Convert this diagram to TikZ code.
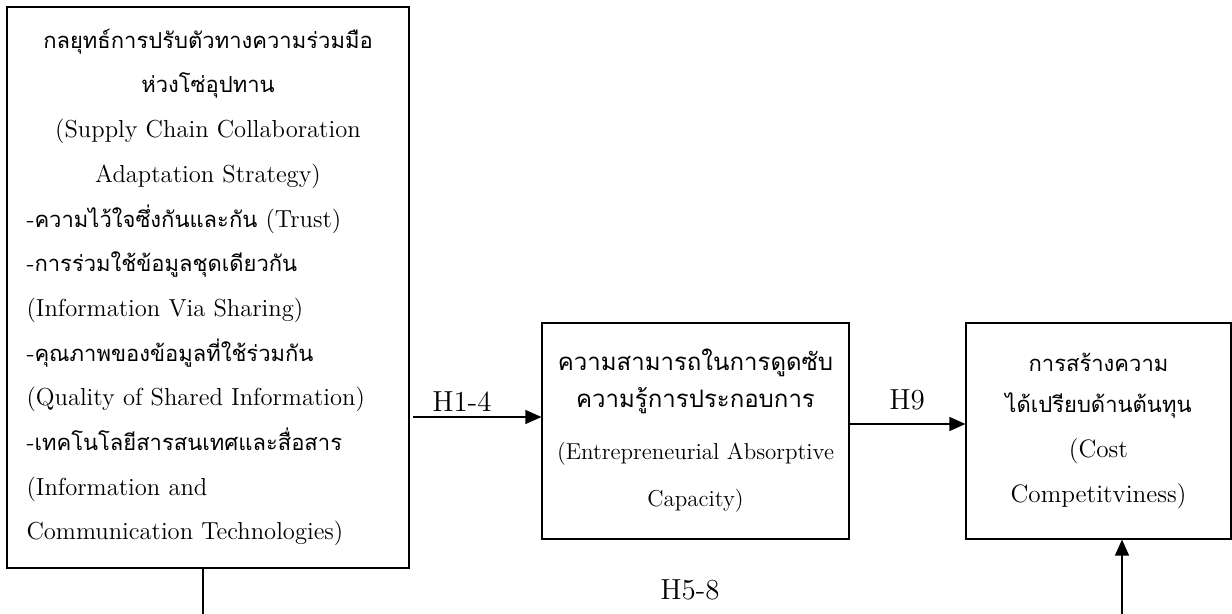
\documentclass[tikz,border=0pt]{standalone}
\usepackage{fontspec}
\newfontfamily\thai[Script=Thai]{Loma}
\usetikzlibrary{arrows.meta}

\begin{document}
\begin{tikzpicture}[x=0.5pt,y=-0.5pt,line width=0.6pt,
	box/.style={draw,line width=0.6pt,inner sep=0pt},
	lbl/.style={font=\fontsize{14.5}{16}\selectfont},
	arr/.style={-{Triangle[length=8pt,width=7pt]}}]
	\useasboundingbox (0,0) rectangle (1232,614);
	\node at (208,287.5) [box,minimum width=201pt,minimum height=280.5pt,text width=181.5pt,
		font=\fontsize{12.3}{22.35}\selectfont] (lbox) {%
		{\centering {\thai\fontsize{11}{22.35}\selectfont กลยุทธ์การปรับตัวทางความร่วมมือ}\\
		{\thai\fontsize{11}{22.35}\selectfont ห่วงโซ่อุปทาน}\\
		(Supply Chain Collaboration\\
		Adaptation Strategy)\par}
		\raggedright
		-{\thai\fontsize{11}{22.35}\selectfont ความไว้ใจซึ่งกันและกัน} (Trust)\\
		-{\thai\fontsize{11}{22.35}\selectfont การร่วมใช้ข้อมูลชุดเดียวกัน}\\
		(Information Via Sharing)\\
		-{\thai\fontsize{11}{22.35}\selectfont คุณภาพของข้อมูลที่ใช้ร่วมกัน}\\
		(Quality of Shared Information)\\
		-{\thai\fontsize{11}{22.35}\selectfont เทคโนโลยีสารสนเทศและสื่อสาร}\\
		(Information and\\
		Communication Technologies)};
	\node at (695.5,431) [box,minimum width=153.5pt,minimum height=108pt,align=center,
		font=\fontsize{11.5}{23.5}\selectfont] (mbox) {%
		{\thai\fontsize{12}{20}\selectfont ความสามารถในการดูดซับ}\\[-5pt]
		{\thai\fontsize{12}{20}\selectfont ความรู้การประกอบการ}\\[2.5pt]
		(Entrepreneurial Absorptive\\
		Capacity)};
	\node at (1098.5,431) [box,minimum width=132.5pt,minimum height=108pt,align=center,
		font=\fontsize{12.6}{22.5}\selectfont] (rbox) {%
		{\thai\fontsize{11}{22.5}\selectfont การสร้างความ}\\[-2pt]
		{\thai\fontsize{11}{22.5}\selectfont ได้เปรียบด้านต้นทุน}\\
		(Cost\\
		Competitviness)};
	\coordinate (h14) at (413,417);
	\coordinate (h9) at (849,424);
	\coordinate (lfoot) at (203,614);
	\coordinate (rfoot) at (1122,614);
	\draw [arr] (h14) to (mbox.west |- h14);
	\draw [arr] (h9) to (rbox.west |- h9);
	\draw (lbox.south -| lfoot) to (lfoot);
	\draw [arr] (rfoot) to (rbox.south -| rfoot);
	\node at (462,402) [lbl] (l14) {H1-4};
	\node at (907,400) [lbl] (l9) {H9};
	\node at (690,590) [lbl] (l58) {H5-8};
\end{tikzpicture}
\end{document}
